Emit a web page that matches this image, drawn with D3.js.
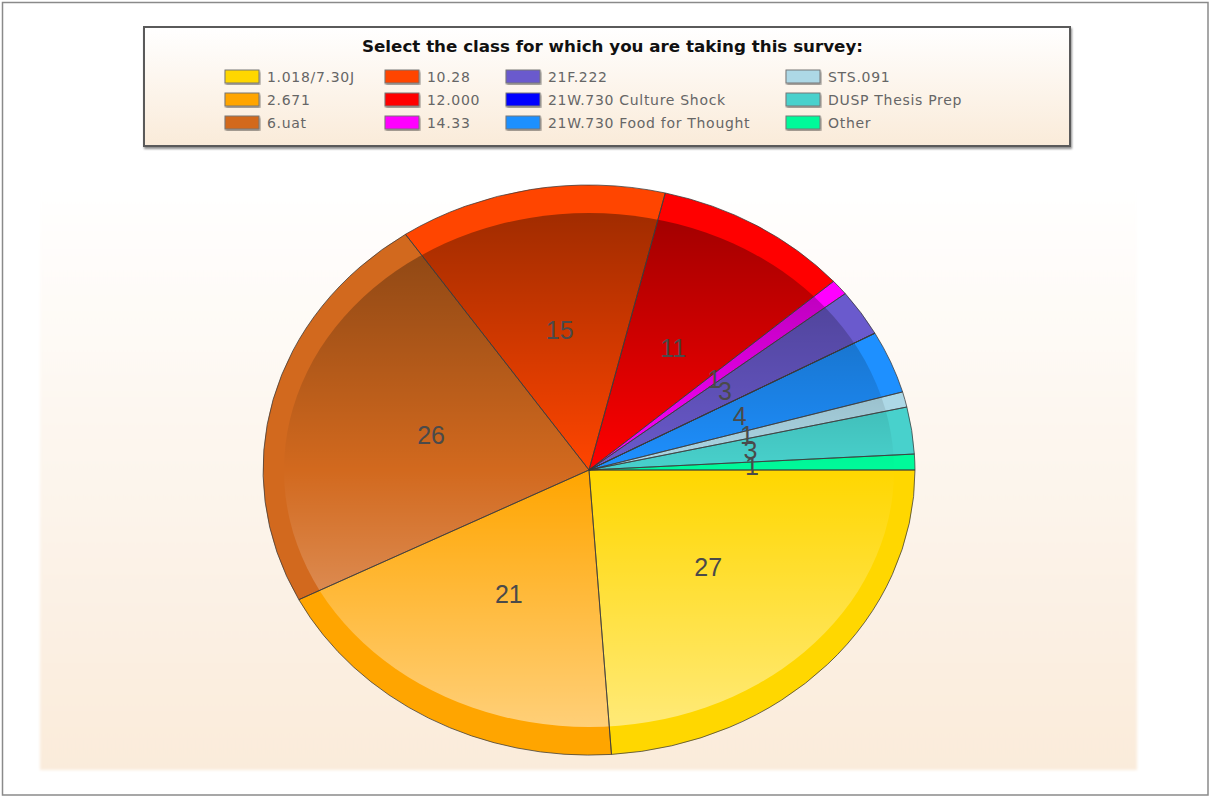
<!DOCTYPE html>
<html lang="en">
<head>
  <meta charset="UTF-8">
  <title>Survey class pie</title>
  <script src="https://d3js.org/d3.v7.min.js"></script>
  <style>
    body { margin: 0; background: #fff; }
    svg { display: block; font-family: "DejaVu Sans", Verdana, sans-serif; }
  </style>
</head>
<body>
<svg id="chart" width="1210" height="797"></svg>
<script>
  // data
  const classes = ["1.018/7.30J", "2.671", "6.uat", "10.28", "12.000", "14.33",
    "21F.222", "21W.730 Culture Shock", "21W.730 Food for Thought", "STS.091",
    "DUSP Thesis Prep", "Other"];
  const counts = [27, 21, 26, 15, 11, 1, 3, 0, 4, 1, 3, 1];
  const colors = ["#FFD700", "#FFA500", "#D2691E", "#FF4500", "#FF0000", "#FF00FF",
    "#6A5ACD", "#0000FF", "#1E90FF", "#ADD8E6", "#48D1CC", "#00FA9A"];
  const legendTitle = "Select the class for which you are taking this survey:";

  const width = 1210, height = 797;
  const svg = d3.select("#chart");
  const defs = svg.append("defs");

  // outer frame
  svg.append("rect")
    .attr("x", 2.5).attr("y", 2.5)
    .attr("width", 1205.5).attr("height", 792.5)
    .attr("fill", "#fff").attr("stroke", "#8a8a8a").attr("stroke-width", 1.5);

  // plot background gradient
  const bgGrad = defs.append("linearGradient").attr("id", "bg").attr("x1", 0).attr("y1", 0).attr("x2", 0).attr("y2", 1);
  bgGrad.append("stop").attr("offset", 0).attr("stop-color", "#ffffff");
  bgGrad.append("stop").attr("offset", 1).attr("stop-color", "#faebda");
  defs.append("filter").attr("id", "soft").append("feGaussianBlur").attr("stdDeviation", 1.5);

  svg.append("rect")
    .attr("x", 40).attr("y", 178).attr("width", 1097).attr("height", 592)
    .attr("fill", "url(#bg)").attr("filter", "url(#soft)");

  // legend
  const lx = 144, ly = 27, lw = 926, lh = 119;
  const shadow = defs.append("filter").attr("id", "shadow").attr("x", "-5%").attr("y", "-5%").attr("width", "110%").attr("height", "120%");
  shadow.append("feGaussianBlur").attr("in", "SourceAlpha").attr("stdDeviation", 1.2);
  shadow.append("feOffset").attr("dx", 1).attr("dy", 1.5).attr("result", "off");
  shadow.append("feComponentTransfer").append("feFuncA").attr("type", "linear").attr("slope", 0.45);
  const merge = shadow.append("feMerge");
  merge.append("feMergeNode");
  merge.append("feMergeNode").attr("in", "SourceGraphic");

  const legGrad = defs.append("linearGradient").attr("id", "leg").attr("x1", 0).attr("y1", 0).attr("x2", 0).attr("y2", 1);
  legGrad.append("stop").attr("offset", 0).attr("stop-color", "#ffffff");
  legGrad.append("stop").attr("offset", 1).attr("stop-color", "#faebd9");

  svg.append("rect")
    .attr("x", lx).attr("y", ly).attr("width", lw).attr("height", lh)
    .attr("fill", "url(#leg)").attr("stroke", "#5a5a5a").attr("stroke-width", 2)
    .attr("filter", "url(#shadow)");

  svg.append("text")
    .attr("x", 362).attr("y", 52)
    .attr("font-size", 16).attr("font-weight", "bold").attr("fill", "#111")
    .attr("textLength", 501).attr("lengthAdjust", "spacingAndGlyphs")
    .text(legendTitle);

  const colX = [225, 385, 506, 786];
  const rowY = [70, 93, 116];
  const legend = svg.append("g").selectAll("g")
    .data(classes)
    .join("g")
    .attr("transform", (d, i) => `translate(${colX[Math.floor(i / 3)]},${rowY[i % 3]})`);

  legend.append("rect")
    .attr("width", 34).attr("height", 13)
    .attr("fill", (d, i) => colors[i])
    .attr("stroke", "#777").attr("stroke-width", 1)
    .attr("filter", "url(#shadow)");

  legend.append("text")
    .attr("x", 42).attr("y", 12)
    .attr("font-size", 14).attr("fill", "#666")
    .attr("letter-spacing", 0.7)
    .text(d => d);

  // pie (elliptical)
  const cx = 589, cy = 470, rx = 326, ry = 285;
  const irx = 305, iry = 257;

  const pie = d3.pie().sort(null).value(d => d)
    .startAngle(Math.PI / 2).endAngle(Math.PI / 2 + 2 * Math.PI);
  const arcs = pie(counts);
  const arc = d3.arc().innerRadius(0).outerRadius(1);

  const pieG = svg.append("g").attr("transform", `translate(${cx},${cy})`);

  pieG.append("g")
    .attr("transform", `scale(${rx},${ry})`)
    .selectAll("path")
    .data(arcs)
    .join("path")
    .attr("d", arc)
    .attr("fill", (d, i) => colors[i]);

  // inner shading
  const shade = defs.append("linearGradient").attr("id", "shade")
    .attr("gradientUnits", "userSpaceOnUse")
    .attr("x1", 0).attr("y1", -iry).attr("x2", 0).attr("y2", iry);
  shade.append("stop").attr("offset", 0).attr("stop-color", "#000").attr("stop-opacity", 0.37);
  shade.append("stop").attr("offset", 0.5).attr("stop-color", "#000").attr("stop-opacity", 0);
  shade.append("stop").attr("offset", 0.5).attr("stop-color", "#fff").attr("stop-opacity", 0);
  shade.append("stop").attr("offset", 1).attr("stop-color", "#fff").attr("stop-opacity", 0.47);

  pieG.append("ellipse")
    .attr("rx", irx).attr("ry", iry)
    .attr("fill", "url(#shade)");

  // slice edges
  pieG.append("g")
    .attr("transform", `scale(${rx},${ry})`)
    .selectAll("path")
    .data(arcs)
    .join("path")
    .attr("d", arc)
    .attr("fill", "none")
    .attr("stroke", "#3a3a3a").attr("stroke-opacity", 0.75)
    .attr("stroke-width", 1)
    .attr("vector-effect", "non-scaling-stroke");

  // value labels
  pieG.append("g")
    .selectAll("text")
    .data(arcs.filter(d => d.value > 0))
    .join("text")
    .attr("x", d => arc.centroid(d)[0] * rx)
    .attr("y", d => arc.centroid(d)[1] * ry)
    .attr("text-anchor", "middle")
    .attr("dominant-baseline", "central")
    .attr("font-family", "'Liberation Sans Narrow', 'Liberation Sans', Arial, sans-serif")
    .attr("font-size", 25).attr("fill", "#4a4a4a")
    .text(d => d.value);
</script>
</body>
</html>
